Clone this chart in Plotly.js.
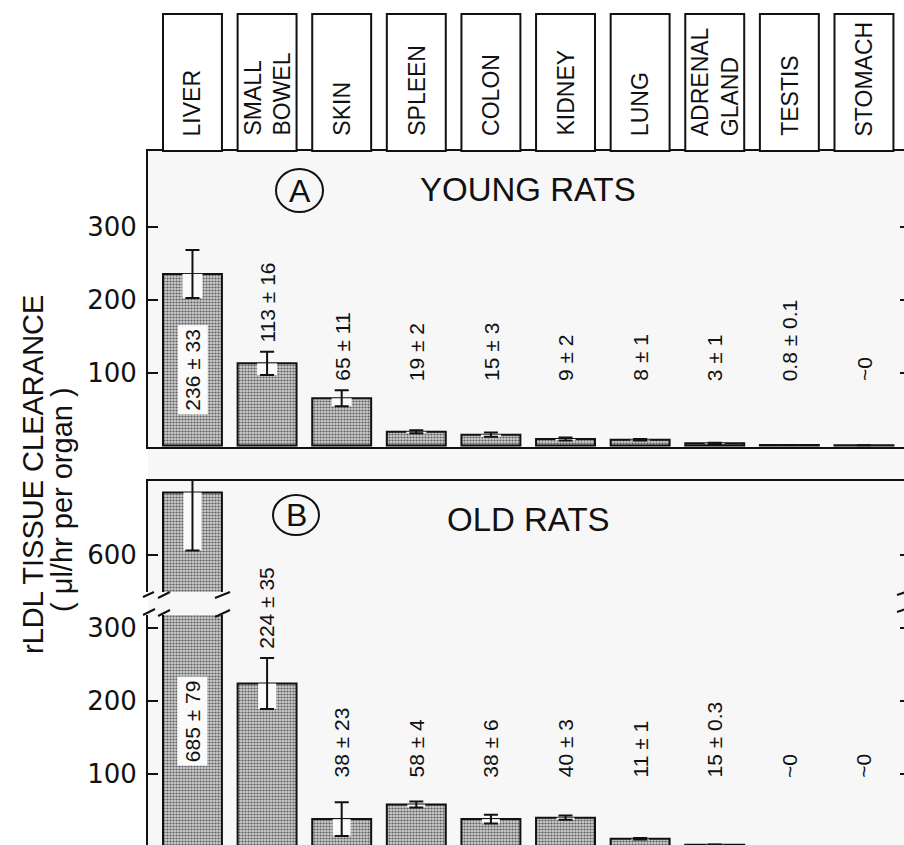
<!DOCTYPE html>
<html><head><meta charset="utf-8">
<script src="https://cdn.plot.ly/plotly-3.0.1.min.js"></script>
<style>html,body{margin:0;padding:0;overflow:hidden;background:#fff}#chart{width:912px;height:850px}</style>
</head><body><div id="chart"></div>
<script>
// ---------- data ----------
const categories = ["LIVER","SMALL BOWEL","SKIN","SPLEEN","COLON","KIDNEY","LUNG","ADRENAL GLAND","TESTIS","STOMACH"];
const headerLabels = ["LIVER","SMALL<br>BOWEL","SKIN","SPLEEN","COLON","KIDNEY","LUNG","ADRENAL<br>GLAND","TESTIS","STOMACH"];
const youngMean = [236, 113, 65, 19, 15, 9, 8, 3, 0.8, 0.3];
const youngSE   = [33, 16, 11, 2, 3, 2, 1, 1, 0.1, 0];
const youngText = ["236 ± 33","113 ± 16","65 ± 11","19 ± 2","15 ± 3","9 ± 2","8 ± 1","3 ± 1","0.8 ± 0.1","~0"];
const oldMean = [685, 224, 38, 58, 38, 40, 11, 3, 0.3, 0.3];
const oldSE   = [79, 35, 23, 4, 6, 3, 1, 0.3, 0, 0];
const oldText = ["685 ± 79","224 ± 35","38 ± 23","58 ± 4","38 ± 6","40 ± 3","11 ± 1","15 ± 0.3","~0","~0"];
const yTicksA = [100, 200, 300];
const yTicksBLow = [100, 200, 300];
const yTicksBHigh = [600];
const panelATitle = "YOUNG RATS", panelBTitle = "OLD RATS";
const yTitle1 = "rLDL TISSUE CLEARANCE", yTitle2 = "( μl/hr per organ )";

// ---------- layout geometry (pixels) ----------
const W = 912, H = 850;
const fx = p => p / W, fy = p => (H - p) / H;
const PL = 148, PR = 910;
const A_TOP = 151, A_BOT = 447;
const B_TOP = 481, B_BRK_UP = 592, B_BRK_LO = 615, B_BOT = 849;
const HEAD_TOP = 14, HEAD_TEXT_BOTTOM = 138;
const X_RANGE = [-0.596, 9.617];
const BAR_W = 0.79;
const A_RANGE = [-2, 405], BL_RANGE = [-3, 318], BH_RANGE = [549.7, 700.7];
const INK = '#111';
const BG = '#fafafa';
const FONT = 'Liberation Sans, Arial, sans-serif';

function barTrace(vals, xa, ya) {
  return {type:'bar', x:categories, y:vals, xaxis:xa, yaxis:ya, width:BAR_W,
    marker:{color:'#b0b0b0', line:{color:INK, width:2},
      pattern:{shape:'.', fgcolor:'#5e5e5e', bgcolor:'#cdcdcd', size:3, solidity:0.42}},
    hoverinfo:'skip', showlegend:false};
}
function notchTrace(vals, se, xa, ya, th) {
  return {type:'scatter', mode:'markers', x:categories, y:vals, xaxis:xa, yaxis:ya,
    marker:{size:1, opacity:0}, hoverinfo:'skip', showlegend:false,
    error_y:{type:'data', symmetric:false, array:se.map(() => 0), arrayminus:se,
      color:BG, thickness:th, width:0}};
}
function errTrace(vals, se, xa, ya) {
  return {type:'scatter', mode:'markers', x:categories, y:vals, xaxis:xa, yaxis:ya,
    marker:{size:1, opacity:0}, hoverinfo:'skip', showlegend:false,
    error_y:{type:'data', array:se, color:INK, thickness:2, width:7}};
}

const traces = [
  barTrace(youngMean,'x','y'), notchTrace(youngMean, youngSE,'x','y',20), errTrace(youngMean, youngSE,'x','y'),
  barTrace(oldMean,'x2','y2'), notchTrace(oldMean, oldSE,'x2','y2',18), errTrace(oldMean, oldSE,'x2','y2'),
  barTrace(oldMean,'x3','y3'), notchTrace(oldMean, oldSE,'x3','y3',18), errTrace(oldMean, oldSE,'x3','y3')
];

const yCommon = {ticks:'inside', ticklen:10, tickwidth:2, tickcolor:INK, showline:true, linewidth:2,
  linecolor:INK, mirror:'ticks', showgrid:false, zeroline:false, ticklabelstandoff:4,
  tickfont:{family:'DejaVu Sans, sans-serif', size:26, color:INK}};
const xCommon = {range:X_RANGE, domain:[fx(PL), fx(PR)], showticklabels:false, ticks:'',
  showgrid:false, zeroline:false, linecolor:INK, linewidth:2, type:'category'};

const shapes = [];
const annotations = [];
// background band of the panels
shapes.push({type:'rect', xref:'paper', yref:'paper', x0:fx(PL), x1:1, y0:0, y1:fy(A_TOP),
  fillcolor:'#f7f7f7', line:{width:0}, layer:'below'});
// header boxes and labels
categories.forEach((c, i) => {
  shapes.push({type:'rect', xref:'x', yref:'paper', x0:i - BAR_W/2, x1:i + BAR_W/2,
    y0:fy(A_TOP), y1:fy(HEAD_TOP), fillcolor:'#fff', line:{color:INK, width:2}});
  annotations.push({xref:'x', yref:'paper', x:i, y:fy(HEAD_TEXT_BOTTOM), text:headerLabels[i],
    textangle:-90, xanchor:'center', yanchor:'bottom', align:'left', showarrow:false,
    font:{family:FONT, size:23, color:INK}});
});
// bar value labels
categories.forEach((c, i) => {
  const v = youngMean[i], s = youngSE[i];
  if (v > 200) {
    annotations.push({xref:'x', yref:'y', x:i, y:105, text:youngText[i], textangle:-90, showarrow:false,
      yanchor:'middle', bgcolor:BG, borderpad:3, font:{family:FONT, size:21, color:INK}});
  } else {
    annotations.push({xref:'x', yref:'y', x:i, y:Math.max(86, v + s + 10), text:youngText[i], textangle:-90,
      showarrow:false, yanchor:'bottom', font:{family:FONT, size:21, color:INK}});
  }
  const w = oldMean[i], t = oldSE[i];
  if (w > BL_RANGE[1]) {
    annotations.push({xref:'x2', yref:'y2', x:i, y:173, text:oldText[i], textangle:-90, showarrow:false,
      yanchor:'middle', bgcolor:BG, borderpad:3, font:{family:FONT, size:21, color:INK}});
  } else {
    annotations.push({xref:'x2', yref:'y2', x:i, y:Math.max(92, w + t + 10), text:oldText[i], textangle:-90,
      showarrow:false, yanchor:'bottom', font:{family:FONT, size:21, color:INK}});
  }
});
// panel titles and circled letters
annotations.push({xref:'paper', yref:'paper', x:fx(527.5), y:fy(190), text:panelATitle, showarrow:false,
  xanchor:'center', yanchor:'middle', font:{family:FONT, size:33, color:INK}});
annotations.push({xref:'paper', yref:'paper', x:fx(528), y:fy(519.5), text:panelBTitle, showarrow:false,
  xanchor:'center', yanchor:'middle', font:{family:FONT, size:33, color:INK}});
annotations.push({xref:'paper', yref:'paper', x:fx(299.5), y:fy(191), text:'A', showarrow:false,
  xanchor:'center', yanchor:'middle', font:{family:FONT, size:32, color:INK}});
annotations.push({xref:'paper', yref:'paper', x:fx(296), y:fy(515), text:'B', showarrow:false,
  xanchor:'center', yanchor:'middle', font:{family:FONT, size:32, color:INK}});
shapes.push({type:'circle', xref:'paper', yref:'paper', x0:fx(276), x1:fx(323), y0:fy(212), y1:fy(169),
  line:{color:INK, width:2}});
shapes.push({type:'circle', xref:'paper', yref:'paper', x0:fx(273), x1:fx(319), y0:fy(535), y1:fy(495),
  line:{color:INK, width:2}});
// y-axis title (two lines)
annotations.push({xref:'paper', yref:'paper', x:fx(33), y:fy(475), text:yTitle1, textangle:-90, showarrow:false,
  xanchor:'center', yanchor:'middle', font:{family:FONT, size:29, color:INK}});
annotations.push({xref:'paper', yref:'paper', x:fx(62), y:fy(500), text:yTitle2, textangle:-90, showarrow:false,
  xanchor:'center', yanchor:'middle', font:{family:FONT, size:29, color:INK}});
// axis-break marks
const brk = [[143,597,154,592],[158,598,170,592],[215,598,230,592],
             [143,615,155,609],[158,616,170,610],[215,617,230,610],
             [897,595,906,592],[897,612,906,609]];
brk.forEach(b => shapes.push({type:'line', xref:'paper', yref:'paper', x0:fx(b[0]), y0:fy(b[1]),
  x1:fx(b[2]), y1:fy(b[3]), line:{color:INK, width:2}}));

const layout = {
  width:W, height:H, margin:{l:0, r:0, t:0, b:0},
  paper_bgcolor:'#ffffff', plot_bgcolor:BG, showlegend:false,
  font:{family:FONT, color:INK},
  xaxis:Object.assign({}, xCommon, {anchor:'y', showline:true, mirror:true}),
  xaxis2:Object.assign({}, xCommon, {anchor:'y2', showline:true, mirror:false}),
  xaxis3:Object.assign({}, xCommon, {anchor:'y3', side:'top', showline:true, mirror:false}),
  yaxis:Object.assign({}, yCommon, {domain:[fy(A_BOT), fy(A_TOP)], range:A_RANGE, tickvals:yTicksA, anchor:'x'}),
  yaxis2:Object.assign({}, yCommon, {domain:[fy(B_BOT), fy(B_BRK_LO)], range:BL_RANGE, tickvals:yTicksBLow, anchor:'x2'}),
  yaxis3:Object.assign({}, yCommon, {domain:[fy(B_BRK_UP), fy(B_TOP)], range:BH_RANGE, tickvals:yTicksBHigh, anchor:'x3'}),
  shapes:shapes, annotations:annotations
};
Plotly.newPlot('chart', traces, layout, {staticPlot:true, displayModeBar:false});
</script></body></html>
